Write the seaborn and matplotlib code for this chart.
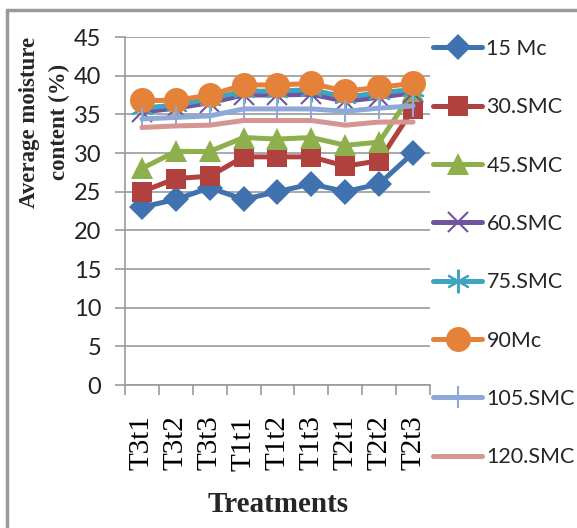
import matplotlib
matplotlib.use("Agg")
import matplotlib.pyplot as plt
from matplotlib.lines import Line2D
import seaborn as sns
import pandas as pd

treatments = ["T3t1", "T3t2", "T3t3", "T1t1", "T1t2", "T1t3", "T2t1", "T2t2", "T2t3"]

mc_15 = [23.0, 24.0, 25.5, 24.0, 25.0, 26.0, 25.0, 26.0, 30.0]
smc_30 = [25.0, 26.7, 27.0, 29.5, 29.5, 29.5, 28.3, 29.0, 35.7]
smc_45 = [28.0, 30.2, 30.2, 32.0, 31.8, 32.0, 31.0, 31.4, 38.0]
smc_60 = [35.3, 35.8, 36.5, 37.5, 37.5, 37.6, 36.7, 37.2, 37.8]
smc_75 = [35.8, 36.2, 37.0, 38.0, 38.0, 38.2, 37.2, 37.8, 38.2]
mc_90 = [36.8, 36.8, 37.5, 38.8, 38.8, 39.0, 38.0, 38.5, 39.0]
smc_105 = [34.4, 34.6, 34.8, 35.7, 35.7, 35.7, 35.4, 35.8, 36.1]
smc_120 = [33.3, 33.5, 33.6, 34.2, 34.2, 34.2, 33.6, 34.0, 34.0]

series_names = ["15 Mc", "30.SMC", "45.SMC", "60.SMC", "75.SMC", "90Mc", "105.SMC", "120.SMC"]
series_values = [mc_15, smc_30, smc_45, smc_60, smc_75, mc_90, smc_105, smc_120]

colors = ["#3F72AF", "#B0413E", "#8DB04C", "#7054A0", "#3FA5BF", "#E5823A", "#8EA9D8", "#D49593"]
markers = ["D", "s", "^", "x", (6, 2, 0), "o", "|", None]
msizes = [13, 14, 16, 14, 17, 18, 16, 0]

sans = "Lato"
serif = "Liberation Serif"

sns.set_theme(style="white")
plt.rcParams["font.family"] = [sans, "DejaVu Sans"]

df = pd.DataFrame(
    [(name, t, v) for name, vals in zip(series_names, series_values) for t, v in zip(treatments, vals)],
    columns=["series", "treatment", "value"],
)


def edge_width(m):
    return 1.5 if m in ("x", "|") or isinstance(m, tuple) else 0


fig = plt.figure(figsize=(5.77, 5.28), dpi=100)
ax = fig.add_axes([125 / 577, 1 - 385 / 528, 305 / 577, 348 / 528])

# draw back to front so the upper series sit on top
order = [7, 6, 3, 4, 0, 1, 2, 5]
for i in order:
    sub = df[df["series"] == series_names[i]]
    sns.lineplot(
        data=sub, x="treatment", y="value", ax=ax, color=colors[i], linewidth=3.6,
        marker=markers[i] if markers[i] is not None else "", markersize=msizes[i],
        markeredgewidth=edge_width(markers[i]), markeredgecolor=colors[i],
        sort=False, legend=False, zorder=3 + i,
    )

ax.set_ylim(0, 45)
ax.set_yticks(range(0, 46, 5))
ax.set_xlim(-0.5, len(treatments) - 0.5)
ax.yaxis.grid(True, color="#9a9a9a", linewidth=1.2)
ax.set_axisbelow(True)
for side in ("top", "right"):
    ax.spines[side].set_visible(False)
for side in ("left", "bottom"):
    ax.spines[side].set_color("#9a9a9a")
    ax.spines[side].set_linewidth(1.2)

ax.set_xticks(range(len(treatments)))
ax.set_xticklabels(treatments, rotation=90, fontfamily=serif, fontsize=21, color="black")
ax.tick_params(axis="x", which="major", length=0, pad=22)
ax.set_xticks([i + 0.5 for i in range(-1, len(treatments))], minor=True)
ax.tick_params(axis="x", which="minor", length=7, width=1.2, color="#9a9a9a", direction="out", bottom=True)
ax.tick_params(axis="y", length=7, width=1.2, color="#9a9a9a", direction="out", left=True, pad=10, labelsize=17)
for lab in ax.get_yticklabels():
    lab.set_color("#222222")

ax.set_xlabel("")
ax.set_ylabel("")
fig.text(278 / 577, 1 - 505 / 528, "Treatments", ha="center", va="center",
         fontfamily=serif, fontweight="bold", fontsize=21)
fig.text(45 / 577, 1 - 122 / 528, "Average moisture\ncontent (%)", ha="center", va="center",
         rotation=90, fontfamily=serif, fontweight="bold", fontsize=16.5, linespacing=1.55,
         multialignment="center")

handles = [
    Line2D([], [], color=c, linewidth=3.6, marker=m if m is not None else "", markersize=ms,
           markeredgewidth=edge_width(m), markeredgecolor=c)
    for c, m, ms in zip(colors, markers, msizes)
]
fig.legend(handles, series_names, loc="upper left", bbox_to_anchor=(433 / 577, 1 - 39 / 528),
           frameon=False, fontsize=15.5, labelspacing=1.78, handlelength=2.28, handletextpad=0.2,
           borderaxespad=0, borderpad=0)

# chart frame along the top and left edges
fig.add_artist(Line2D([7 / 577, 1], [1 - 10 / 528, 1 - 10 / 528], color="#9a9a9a", linewidth=2.5))
fig.add_artist(Line2D([7 / 577, 7 / 577], [0, 1 - 10 / 528], color="#9a9a9a", linewidth=2.5))

fig.savefig("out.png", dpi=100)
